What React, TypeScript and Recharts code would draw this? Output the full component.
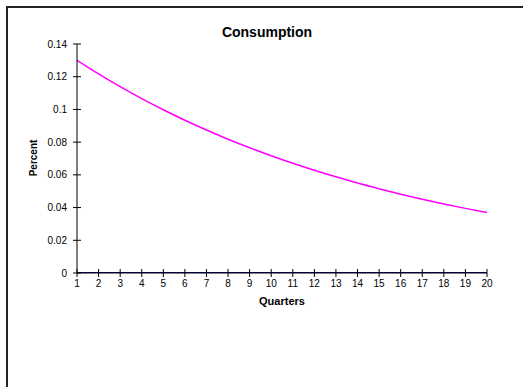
import { LineChart, Line, XAxis, YAxis } from 'recharts';

const quarters = [1, 2, 3, 4, 5, 6, 7, 8, 9, 10, 11, 12, 13, 14, 15, 16, 17, 18, 19, 20];
const consumption = [
  0.13, 0.1217, 0.1139, 0.1066, 0.0998, 0.0934, 0.0874, 0.0818, 0.0766, 0.0717,
  0.0671, 0.0628, 0.0588, 0.055, 0.0515, 0.0482, 0.0451, 0.0422, 0.0395, 0.037,
];
const baseline = [0, 0, 0, 0, 0, 0, 0, 0, 0, 0, 0, 0, 0, 0, 0, 0, 0, 0, 0, 0];
const yTicks = [0, 0.02, 0.04, 0.06, 0.08, 0.1, 0.12, 0.14];

const data = quarters.map((q, i) => ({ q, consumption: consumption[i], zero: baseline[i] }));

const font = 'Arial, "Liberation Sans", sans-serif';

const YTick = (props: any) => {
  const { x, y, payload } = props;
  return (
    <g>
      <line x1={x - 4} x2={x + 4} y1={y} y2={y} stroke="#000" strokeWidth={1} />
      <text x={x - 10} y={y} dy={3.5} textAnchor="end" fontSize={10} fontFamily={font} fill="#000">
        {String(payload.value)}
      </text>
    </g>
  );
};

const XTick = (props: any) => {
  const { x, y, payload } = props;
  return (
    <g>
      <line x1={x} x2={x} y1={y - 4} y2={y + 4} stroke="#000" strokeWidth={1} />
      <text x={x} y={y + 14} textAnchor="middle" fontSize={10} fontFamily={font} fill="#000">
        {String(payload.value)}
      </text>
    </g>
  );
};

export default function App() {
  return (
    <div style={{ position: 'absolute', left: 0, top: 0, width: 523, height: 387, background: '#fff', fontFamily: font }}>
      <div
        style={{
          position: 'absolute',
          left: 6,
          top: 6,
          right: 0,
          bottom: 0,
          borderTop: '2px solid #222',
          borderLeft: '2px solid #222',
        }}
      />
      <LineChart
        width={523}
        height={387}
        data={data}
        margin={{ top: 44, right: 36, bottom: 84, left: 37 }}
        style={{ position: 'absolute', left: 0, top: 0 }}
      >
        <XAxis
          dataKey="q"
          type="number"
          domain={[1, 20]}
          ticks={quarters}
          height={30}
          tickSize={0}
          tickMargin={0}
          tickLine={false}
          axisLine={{ stroke: '#000', strokeWidth: 1 }}
          tick={<XTick />}
          interval={0}
        />
        <YAxis
          domain={[0, 0.14]}
          ticks={yTicks}
          width={40}
          tickSize={0}
          tickMargin={0}
          tickLine={false}
          axisLine={{ stroke: '#000', strokeWidth: 1 }}
          tick={<YTick />}
          interval={0}
          allowDataOverflow
        />
        <Line dataKey="zero" stroke="#000080" strokeWidth={2} dot={false} isAnimationActive={false} />
        <Line dataKey="consumption" stroke="#FF00FF" strokeWidth={1.5} dot={false} isAnimationActive={false} type="monotone" />
      </LineChart>
      <div
        style={{
          position: 'absolute',
          left: 0,
          width: 534,
          top: 24,
          textAlign: 'center',
          fontWeight: 'bold',
          fontSize: 14,
          lineHeight: '16px',
        }}
      >
        Consumption
      </div>
      <div
        style={{
          position: 'absolute',
          left: 232,
          width: 100,
          top: 295,
          textAlign: 'center',
          fontWeight: 'bold',
          fontSize: 11,
          lineHeight: '12px',
        }}
      >
        Quarters
      </div>
      <div
        style={{
          position: 'absolute',
          left: -16,
          width: 100,
          top: 152,
          textAlign: 'center',
          fontWeight: 'bold',
          fontSize: 10,
          lineHeight: '12px',
          transform: 'rotate(-90deg)',
        }}
      >
        Percent
      </div>
    </div>
  );
}
